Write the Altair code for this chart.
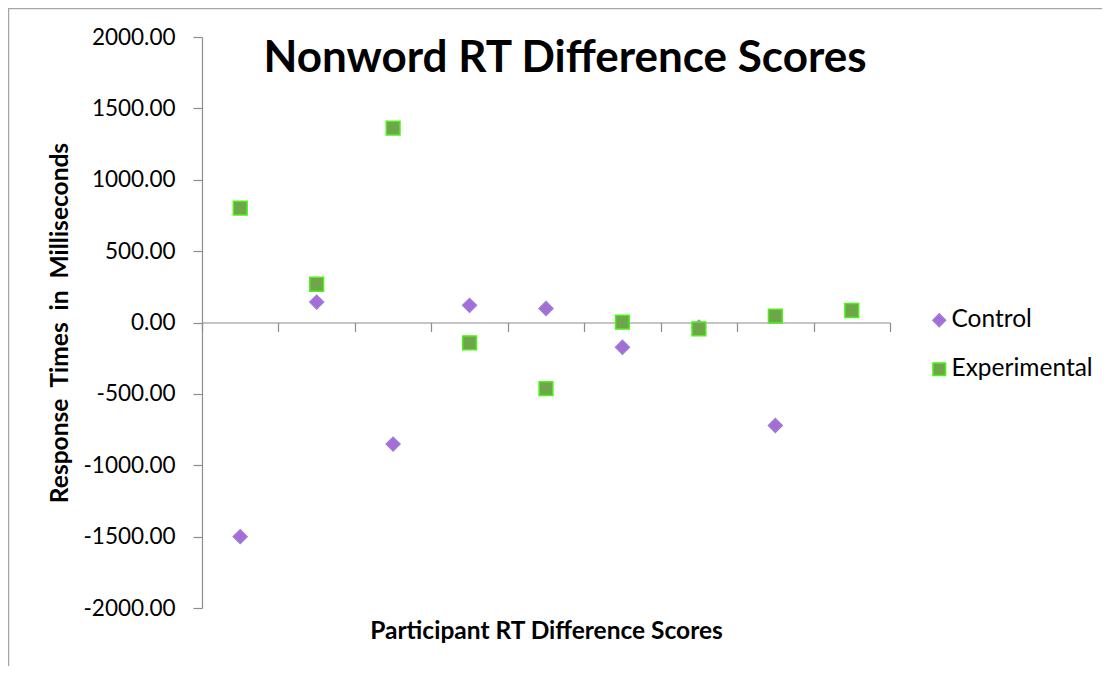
import altair as alt
import pandas as pd

participants = [1, 2, 3, 4, 5, 6, 7, 8, 9]
control = [-1500, 143, -852, 120, 98, -173, -33, -722, None]
experimental = [801, 268, 1362, -142, -463, 2, -45, 44, 84]
y_ticks = [-2000, -1500, -1000, -500, 0, 500, 1000, 1500, 2000]
x_ticks = [0.5, 1.5, 2.5, 3.5, 4.5, 5.5, 6.5, 7.5, 8.5, 9.5]
series = ["Control", "Experimental"]
chart_title = ["Nonword RT Difference Scores"]

rows = []
for p, v in zip(participants, control):
    if v is not None:
        rows.append({"participant": p, "value": v, "series": "Control"})
for p, v in zip(participants, experimental):
    if v is not None:
        rows.append({"participant": p, "value": v, "series": "Experimental"})
df = pd.DataFrame(rows)

W, H = 688, 571
FONT = "Lato"

legend = alt.Legend(title=None, orient="none", legendX=725, legendY=271,
                    labelFont=FONT, labelFontSize=24.5, labelColor="#000000",
                    symbolSize=160, labelOffset=0, rowPadding=24,
                    padding=0, symbolStrokeWidth=1.5)

points = alt.Chart(df).mark_point(filled=True, size=190, strokeWidth=1.5, opacity=1).encode(
    x=alt.X("participant:Q",
            scale=alt.Scale(domain=[0.5, 9.5], nice=False, zero=False),
            axis=alt.Axis(values=x_ticks, labels=False, grid=False, tickSize=9,
                          offset=-H / 2, domainColor="#8C8C8C", tickColor="#8C8C8C",
                          domainWidth=1.2, tickWidth=1.2,
                          title="Participant RT Difference Scores",
                          titleFont=FONT, titleFontSize=24.5, titleFontWeight="bold",
                          titleColor="#000000", titleBaseline="middle",
                          titleY=H / 2 + 23)),
    y=alt.Y("value:Q",
            scale=alt.Scale(domain=[-2000, 2000], nice=False),
            axis=alt.Axis(values=y_ticks, grid=False, tickSize=9,
                          labelExpr="replace(format(datum.value, '.2f'), '\u2212', '-')",
                          labelFont=FONT, labelFontSize=22.5, labelColor="#000000",
                          labelPadding=18,
                          domainColor="#8C8C8C", tickColor="#8C8C8C",
                          domainWidth=1.2, tickWidth=1.2,
                          title="Response\u00a0 Times\u00a0 in\u00a0 Milliseconds",
                          titleFont=FONT, titleFontSize=24.5, titleFontWeight="bold",
                          titleColor="#000000", titleX=-142, titleY=H / 2,
                          titleAlign="center", titleBaseline="middle", titleAngle=270)),
    shape=alt.Shape("series:N", scale=alt.Scale(domain=series, range=["diamond", "square"]),
                    legend=legend),
    fill=alt.Fill("series:N", scale=alt.Scale(domain=series, range=["#A66DD6", "#6FA64A"]),
                  legend=legend),
    stroke=alt.Stroke("series:N", scale=alt.Scale(domain=series, range=["#9B7CD8", "#4CF21C"]),
                      legend=legend),
    order=alt.Order("series:N"),
)

title_df = pd.DataFrame({"t": chart_title})
title_mark = alt.Chart(title_df).mark_text(
    font=FONT, fontSize=44, fontWeight="bold", color="#000000",
    align="center", baseline="middle").encode(
    text="t:N", x=alt.value(W / 2 + 19), y=alt.value(22))

border_top = alt.Chart(title_df).mark_rule(color="#A6A6A6", strokeWidth=1.5).encode(
    x=alt.value(-194), x2=alt.value(W + 220), y=alt.value(-28.5))
border_left = alt.Chart(title_df).mark_rule(color="#A6A6A6", strokeWidth=1.5).encode(
    x=alt.value(-193.5), y=alt.value(-28.5), y2=alt.value(H + 80))

chart = alt.layer(border_top, border_left, points, title_mark).properties(
    width=W, height=H,
    view=alt.ViewBackground(stroke="transparent", strokeWidth=0),
    autosize=alt.AutoSizeParams(type="none"),
    padding={"left": 194, "top": 29, "right": 212, "bottom": 58},
).configure_view(stroke=None).configure(background="#FFFFFF")

chart.save("out.html", embed_options={"renderer": "svg", "actions": False})
